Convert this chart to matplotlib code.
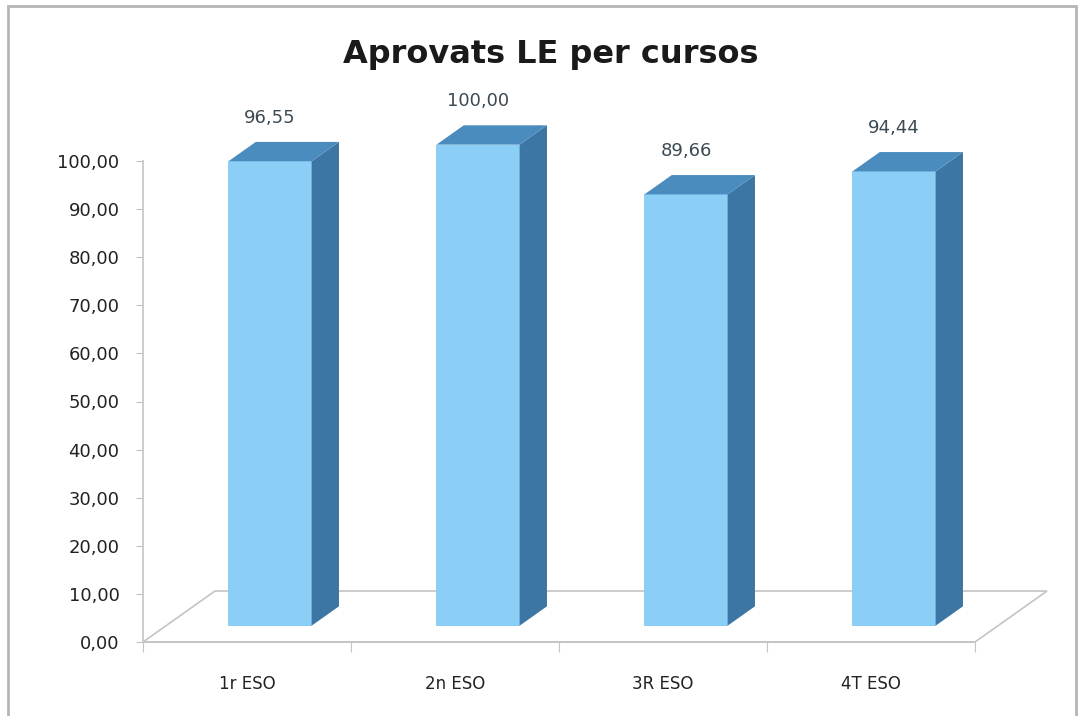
import matplotlib
matplotlib.use("Agg")
import matplotlib.pyplot as plt
from matplotlib.patches import Polygon, Rectangle

# Aprovats LE per cursos - barres 3D a l'estil Excel

cursos = ["1r ESO", "2n ESO", "3R ESO", "4T ESO"]
aprovats = [96.55, 100.00, 89.66, 94.44]
y_ticks = [0, 10, 20, 30, 40, 50, 60, 70, 80, 90, 100]

FRONT = "#8ccff6"
TOP = "#4b8cbf"
SIDE = "#3b76a4"
GRID = "#c4c4c4"
TEXT = "#222222"

# profunditat del terra (en unitats de dades) i posicio de les barres dins d'ell
DX, DY = 0.346, 10.6
F0, F1 = 0.32, 0.70
BAR_W = 0.40


def fmt(v):
    return f"{v:.2f}".replace(".", ",")


fig = plt.figure(figsize=(10.84, 7.16), dpi=100)
ax = fig.add_axes([143 / 1084, 74 / 716, 832 / 1084, 481 / 716])
ax.set_xlim(-0.5, len(cursos) - 0.5)
ax.set_ylim(0, 100)

# terra
x_lo, x_hi = -0.5, len(cursos) - 0.5
floor = Polygon([(x_lo, 0), (x_hi, 0), (x_hi + DX, DY), (x_lo + DX, DY)],
                closed=True, facecolor="white", edgecolor=GRID, lw=1.2,
                clip_on=False, zorder=1)
ax.add_patch(floor)

# barres
xs = list(range(len(cursos)))
d = F1 - F0
for i, v in zip(xs, aprovats):
    xl = i - BAR_W / 2 + F0 * DX
    xr = xl + BAR_W
    bot = F0 * DY
    top = bot + v
    ax.bar(xl, v, width=BAR_W, bottom=bot, align="edge", color=FRONT,
           edgecolor="none", zorder=3, clip_on=False)
    ax.add_patch(Polygon([(xr, bot), (xr, top), (xr + d * DX, top + d * DY),
                          (xr + d * DX, bot + d * DY)], closed=True,
                         facecolor=SIDE, edgecolor="none", zorder=3, clip_on=False))
    ax.add_patch(Polygon([(xl, top), (xr, top), (xr + d * DX, top + d * DY),
                          (xl + d * DX, top + d * DY)], closed=True,
                         facecolor=TOP, edgecolor="none", zorder=3, clip_on=False))
    ax.annotate(fmt(v), (xl + BAR_W / 2, top + d * DY),
                xytext=(0, 11), textcoords="offset points", ha="center",
                va="bottom", fontsize=13, color="#3c4a54",
                annotation_clip=False)

# eixos
for s in ["top", "right"]:
    ax.spines[s].set_visible(False)
ax.spines["left"].set_color(GRID)
ax.spines["bottom"].set_color(GRID)
ax.spines["left"].set_linewidth(1.2)
ax.spines["bottom"].set_linewidth(1.2)

ax.set_yticks(y_ticks)
ax.set_yticklabels([fmt(t) for t in y_ticks])
ax.tick_params(axis="y", direction="out", length=5, color=GRID, pad=12,
               labelsize=13, labelcolor=TEXT)

ax.set_xticks([i - 0.5 for i in range(len(cursos) + 1)])
ax.set_xticklabels([])
ax.tick_params(axis="x", which="major", direction="out", length=7, color=GRID)
ax.set_xticks(xs, minor=True)
ax.set_xticklabels(cursos, minor=True)
ax.tick_params(axis="x", which="minor", length=0, pad=24, labelsize=12,
               labelcolor=TEXT)

fig.text(551 / 1084, 1 - 55 / 716, "Aprovats LE per cursos", ha="center",
         va="center", fontsize=23, fontweight="bold", color="#1a1a1a")

fig.add_artist(Rectangle((8 / 1084, -0.02), 1068 / 1084, (716 - 6) / 716 + 0.02,
                         transform=fig.transFigure, fill=False,
                         edgecolor="#b5b5b5", lw=2))

fig.savefig("out.png", dpi=100)
